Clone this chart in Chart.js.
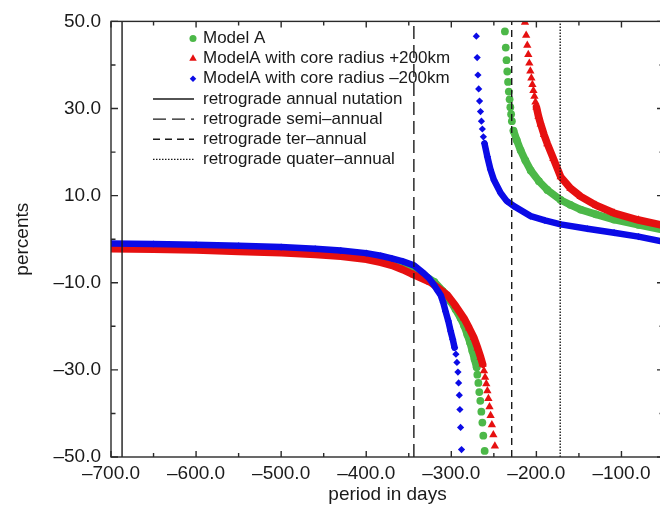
<!DOCTYPE html>
<html><head><meta charset="utf-8">
<script src="https://cdn.jsdelivr.net/npm/chart.js@4.4.1/dist/chart.umd.min.js"></script>
<style>
html,body{margin:0;padding:0;background:#fff;overflow:hidden}
#wrap{width:660px;height:512px;overflow:hidden;position:relative;background:#fff}
canvas{display:block}
</style></head><body>
<div id="wrap"><canvas id="c" width="680" height="512" style="width:680px;height:512px"></canvas></div>
<script>
// ---- data ----
const seriesLabels = ['Model A', 'ModelA with core radius +200km', 'ModelA with core radius \u2013200km'];
const refLineLabels = ['retrograde annual nutation', 'retrograde semi\u2013annual', 'retrograde ter\u2013annual', 'retrograde quater\u2013annual'];
const refLinePeriods = [-687, -344, -229, -172];

const xMajorTicks = [-700, -600, -500, -400, -300, -200, -100];
const xMinorTicks = [-650, -550, -450, -350, -250, -150];
const yMajorTicks = [-50, -30, -10, 10, 30, 50];
const yMinorTicks = [-40, -20, 0, 20, 40];

// [period in days, percents]
const modelA = [
  [-700,-1.6],[-650,-1.7],[-600,-1.9],[-550,-2.1],[-500,-2.4],[-460,-2.8],[-430,-3.2],[-400,-3.9],[-383,-4.5],[-370,-5.2],
  [-357,-6.1],[-344,-7.1],[-332,-8.3],[-320,-9.8],[-310,-11.9],[-300.8,-14.3],[-295,-16.1],[-289.1,-18.1],[-285,-19.8],
  [-281.2,-21.9],[-278,-23.7],[-275.3,-25.6],[-272.7,-27.5],[-270.2,-29.4],[-269.4,-31.1],[-268.2,-33.0],[-267.1,-35.1],
  [-265.9,-37.1],[-264.7,-39.6],[-263.5,-42.1],[-262.4,-45.1],[-260.8,-48.6],
  [-237.0,47.7],[-236.0,44.0],[-235.1,41.1],[-234.2,38.5],[-233.3,36.1],[-232.4,33.9],[-231.5,32.1],[-230.6,30.3],
  [-229.7,28.7],[-228.8,27.1],[-226.9,24.9],[-223,22.7],[-218.5,20.4],[-213,18.1],[-206.7,15.8],[-197,13.3],[-187.1,11.3],
  [-171.4,9.0],[-160,7.9],[-147.9,6.8],[-130,5.7],[-108.7,4.5],[-80,3.3],[-50,2.1]
];
const modelAPlus200 = [
  [-700,-2.2],[-650,-2.3],[-600,-2.5],[-550,-2.8],[-500,-3.1],[-460,-3.5],[-430,-3.9],[-400,-4.6],[-383,-5.3],[-370,-6.0],
  [-357,-7.0],[-344,-8.2],[-324.4,-9.9],[-304.7,-12.8],[-295,-15.3],[-285.2,-18.1],[-279,-20.4],[-273.4,-22.6],[-269,-25.0],
  [-265.5,-27.1],[-263.1,-28.7],[-261.6,-30.2],[-260.3,-31.7],[-258.9,-33.2],[-257.6,-34.8],[-256.4,-36.6],[-255.1,-38.5],
  [-253.8,-40.5],[-252.3,-42.6],[-250.6,-44.9],[-248.8,-47.5],
  [-213.4,49.8],[-212.0,46.8],[-210.7,44.5],[-209.5,42.4],[-208.3,40.4],[-207.1,38.6],[-205.9,37.0],[-204.7,35.5],
  [-203.5,34.1],[-202.3,32.8],[-201.1,31.5],[-199.9,30.3],[-197.5,28.2],[-194.9,26.4],[-191,24.0],[-187.1,21.9],
  [-180,18.5],[-171.4,14.3],[-160,11.7],[-147.9,9.8],[-130,7.8],[-108.7,6.0],[-80,4.4],[-50,3.1]
];
const modelAMinus200 = [
  [-700,-1.0],[-650,-1.1],[-600,-1.3],[-550,-1.5],[-500,-1.8],[-460,-2.2],[-430,-2.6],[-400,-3.2],[-383,-3.8],[-370,-4.4],
  [-357,-5.1],[-344,-6.0],[-332,-7.9],[-326,-9.0],[-320.4,-10.5],[-316,-11.8],[-312.6,-12.8],[-309.5,-14.5],[-306.7,-16.6],
  [-303.5,-18.8],[-300.8,-21.1],[-298.3,-23.0],[-296.1,-24.9],[-294.6,-26.4],[-293.4,-28.3],[-292.2,-30.5],[-291.4,-33.0],
  [-290.6,-35.8],[-289.9,-39.1],[-289.1,-43.2],[-288.0,-48.3],
  [-270.6,46.6],[-269.6,41.7],[-268.7,37.7],[-267.8,34.5],[-266.8,31.7],[-265.7,29.3],[-264.6,27.1],[-263.5,25.3],
  [-262.3,23.5],[-261.0,22.0],[-257.6,18.9],[-254,16.0],[-249.9,13.6],[-242,10.6],[-235,8.8],[-226.4,7.6],[-206.7,5.3],
  [-190,4.3],[-171.4,3.4],[-140,2.4],[-108.7,1.5],[-80,0.6],[-50,-0.6]
];

// ---- styling ----
const FONT = '"Liberation Sans", Arial, Helvetica, sans-serif';
const INK = '#1a1a1a';
const GREEN = '#4cb848', RED = '#e61010', BLUE = '#0b0be6';
const refDashes = [[], [13, 6], [7, 5], [1.5, 1.5]];

const toXY = arr => arr.map(p => ({x: p[0], y: p[1]}));

// dense runs of markers look like a band; sparse ones stay separate
const bandSegment = {
  borderColor: ctx => {
    const dx = Math.abs(ctx.p1.x - ctx.p0.x), dy = Math.abs(ctx.p1.y - ctx.p0.y);
    return dy > 5 * dx ? 'rgba(0,0,0,0)' : undefined;
  }
};

function seriesDataset(label, data, color, style, radius, width, order) {
  return {
    label, data: toXY(data), showLine: true, borderColor: color, backgroundColor: color,
    borderWidth: width, borderCapStyle: 'round', borderJoinStyle: 'round', tension: 0,
    pointStyle: style, pointRadius: radius, pointBorderWidth: 0, pointBackgroundColor: color,
    pointHoverRadius: radius, segment: bandSegment, order
  };
}

const datasets = [
  seriesDataset(seriesLabels[0], modelA, GREEN, 'circle', 3.9, 7.5, 10),
  seriesDataset(seriesLabels[1], modelAPlus200, RED, 'triangle', 4.8, 7.5, 9),
  seriesDataset(seriesLabels[2], modelAMinus200, BLUE, 'rectRot', 3.6, 6.5, 8),
];
refLinePeriods.forEach((p, i) => {
  datasets.push({
    type: 'line', label: refLineLabels[i], data: [{x: p, y: -50}, {x: p, y: 50}],
    borderColor: INK, borderWidth: 1.4, borderDash: refDashes[i], pointRadius: 0, fill: false, order: i,
    isRefLine: true
  });
});

const frameAndTicks = {
  id: 'frameAndTicks',
  afterDraw(chart) {
    const {ctx, chartArea: a, scales: {x, y}} = chart;
    ctx.save();
    ctx.strokeStyle = '#2a2a2a';
    ctx.lineWidth = 1.4;
    ctx.strokeRect(a.left, a.top, a.right - a.left, a.bottom - a.top);
    ctx.beginPath();
    const vt = (v, len) => { const px = x.getPixelForValue(v);
      ctx.moveTo(px, a.bottom); ctx.lineTo(px, a.bottom - len);
      ctx.moveTo(px, a.top); ctx.lineTo(px, a.top + len); };
    const ht = (v, len) => { const py = y.getPixelForValue(v);
      ctx.moveTo(a.left, py); ctx.lineTo(a.left + len, py);
      ctx.moveTo(a.right, py); ctx.lineTo(a.right - len, py); };
    xMajorTicks.forEach(v => vt(v, 6));
    xMinorTicks.forEach(v => vt(v, 4));
    yMajorTicks.forEach(v => ht(v, 7));
    yMinorTicks.forEach(v => ht(v, 4.5));
    ctx.stroke();
    ctx.restore();
  }
};

const insideLegend = {
  id: 'insideLegend',
  afterDraw(chart) {
    const ctx = chart.ctx;
    const lineX0 = 153, lineX1 = 194, markX = 193, textX = 203, top0 = 38.5, step = 20.15;
    ctx.save();
    ctx.font = '17px ' + FONT;
    ctx.textBaseline = 'middle';
    chart.data.datasets.forEach((ds, i) => {
      const yy = top0 + i * step;
      if (ds.isRefLine) {
        ctx.save();
        ctx.strokeStyle = ds.borderColor; ctx.lineWidth = ds.borderWidth;
        ctx.setLineDash(ds.borderDash);
        ctx.beginPath(); ctx.moveTo(lineX0, yy); ctx.lineTo(lineX1, yy); ctx.stroke();
        ctx.restore();
      } else {
        ctx.fillStyle = ds.backgroundColor; ctx.strokeStyle = ds.backgroundColor;
        Chart.helpers.drawPoint(ctx, {pointStyle: ds.pointStyle, radius: ds.pointRadius * 0.9, rotation: 0, borderWidth: 0}, markX, yy);
      }
      ctx.fillStyle = INK;
      ctx.fillText(ds.label, textX, yy);
    });
    ctx.restore();
  }
};

const fmt = v => (v < 0 ? '\u2013' : '') + Math.abs(v).toFixed(1);

new Chart(document.getElementById('c'), {
  type: 'scatter',
  data: {datasets},
  plugins: [frameAndTicks, insideLegend],
  options: {
    responsive: false, devicePixelRatio: 1, animation: false,
    layout: {padding: {top: 15, right: 16, left: 0, bottom: 0}},
    plugins: {legend: {display: false}, tooltip: {enabled: false}},
    scales: {
      x: {
        type: 'linear', min: -700, max: -50,
        afterBuildTicks: s => { s.ticks = xMajorTicks.map(v => ({value: v})); },
        afterFit: s => { s.height = 55; },
        grid: {display: false, drawTicks: false}, border: {display: false},
        ticks: {color: INK, font: {family: FONT, size: 19}, padding: 5, maxRotation: 0, autoSkip: false, callback: v => fmt(v)},
        title: {display: true, text: 'period in days', color: INK, font: {family: FONT, size: 19}, padding: {top: 0, bottom: 5.5}}
      },
      y: {
        type: 'linear', min: -50, max: 50,
        afterBuildTicks: s => { s.ticks = yMajorTicks.map(v => ({value: v})); },
        afterFit: s => { s.width = 111; },
        grid: {display: false, drawTicks: false}, border: {display: false},
        ticks: {color: INK, font: {family: FONT, size: 19}, padding: 10, autoSkip: false, callback: v => fmt(v)},
        title: {display: true, text: 'percents', color: INK, font: {family: FONT, size: 19}, padding: {top: 11, bottom: 0}}
      }
    }
  }
});
</script></body></html>
